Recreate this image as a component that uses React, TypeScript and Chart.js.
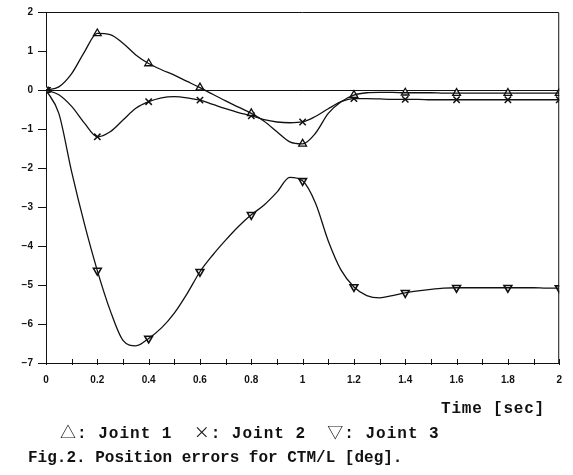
import React, { useEffect, useRef } from "react";
import { Chart, registerables } from "chart.js";

Chart.register(...registerables);

// Time axis (sec)
const TIME = [
  0, 0.05, 0.1, 0.15, 0.2, 0.25, 0.3, 0.35, 0.4, 0.45,
  0.5, 0.55, 0.6, 0.65, 0.7, 0.75, 0.8, 0.85, 0.9, 0.95,
  1.0, 1.05, 1.1, 1.15, 1.2, 1.25, 1.3, 1.35, 1.4, 1.45,
  1.5, 1.55, 1.6, 1.65, 1.7, 1.75, 1.8, 1.85, 1.9, 1.95, 2.0,
];

// Position errors [deg]
const JOINT1 = [
  0, 0.08, 0.42, 0.98, 1.45, 1.42, 1.2, 0.9, 0.68, 0.52,
  0.38, 0.22, 0.06, -0.11, -0.28, -0.44, -0.6, -0.8, -1.07, -1.33,
  -1.38, -1.11, -0.6, -0.3, -0.13, -0.07, -0.06, -0.06, -0.07, -0.07,
  -0.07, -0.08, -0.08, -0.08, -0.08, -0.08, -0.08, -0.08, -0.08, -0.08, -0.08,
];
const JOINT2 = [
  0, -0.12, -0.42, -0.85, -1.2, -1.07, -0.77, -0.47, -0.3, -0.2,
  -0.17, -0.2, -0.26, -0.37, -0.48, -0.58, -0.66, -0.76, -0.82, -0.84,
  -0.82, -0.68, -0.48, -0.3, -0.22, -0.22, -0.23, -0.24, -0.24, -0.24,
  -0.25, -0.25, -0.25, -0.25, -0.25, -0.25, -0.25, -0.25, -0.25, -0.25, -0.25,
];
const JOINT3 = [
  0, -0.6, -2.1, -3.44, -4.63, -5.65, -6.42, -6.56, -6.37, -6.1,
  -5.72, -5.22, -4.66, -4.23, -3.85, -3.5, -3.2, -2.95, -2.62, -2.24,
  -2.33, -2.9, -3.87, -4.62, -5.05, -5.27, -5.33, -5.27, -5.2, -5.15,
  -5.11, -5.08, -5.07, -5.07, -5.07, -5.07, -5.07, -5.07, -5.07, -5.08, -5.08,
];

const X_MIN = 0;
const X_MAX = 2;
const X_STEP = 0.2;
const X_MINOR_STEP = 0.1;
const Y_MIN = -7;
const Y_MAX = 2;
const Y_STEP = 1;

const MARKER_EVERY = 4; // markers every 0.2 s

const TITLE_X = "Time [sec]";
const LEGEND_ITEMS = [
  { sym: "\u25B3", text: ": Joint 1" },
  { sym: "\u00D7", text: ": Joint 2" },
  { sym: "\u25BD", text: ": Joint 3" },
];
const CAPTION = "Fig.2. Position errors for CTM/L [deg].";

const INK = "#111";

function line(values: number[]) {
  return TIME.map((t, i) => ({ x: t, y: values[i] }));
}
function marks(values: number[]) {
  return TIME.map((t, i) => ({ x: t, y: values[i] })).filter((_, i) => i % MARKER_EVERY === 0);
}

const framePlugin = {
  id: "frame",
  afterDraw(chart: any) {
    const { ctx, chartArea: a, scales } = chart;
    ctx.save();
    ctx.strokeStyle = INK;
    ctx.lineWidth = 1;
    ctx.beginPath();
    ctx.moveTo(a.left, a.top + 0.5);
    ctx.lineTo(a.right - 0.5, a.top + 0.5);
    ctx.lineTo(a.right - 0.5, a.bottom);
    ctx.stroke();
    // inward minor ticks on the time axis
    const xs = scales.x;
    const n = Math.round((X_MAX - X_MIN) / X_MINOR_STEP);
    ctx.beginPath();
    for (let i = 0; i <= n; i++) {
      const px = Math.round(xs.getPixelForValue(X_MIN + i * X_MINOR_STEP)) + 0.5;
      ctx.moveTo(px, a.bottom + 2);
      ctx.lineTo(px, a.bottom - 4);
    }
    ctx.stroke();
    ctx.restore();
  },
};

export default function App() {
  const ref = useRef<HTMLCanvasElement>(null);

  useEffect(() => {
    if (!ref.current) return;
    const lineStyle = {
      borderColor: INK,
      borderWidth: 1.3,
      pointRadius: 0,
      fill: false,
      cubicInterpolationMode: "monotone" as const,
    };
    const chart = new Chart(ref.current, {
      type: "line",
      data: {
        datasets: [
          { label: "Joint 1", data: line(JOINT1), ...lineStyle },
          { label: "Joint 2", data: line(JOINT2), ...lineStyle },
          { label: "Joint 3", data: line(JOINT3), ...lineStyle },
          {
            label: "Joint 1 markers",
            data: marks(JOINT1),
            showLine: false,
            pointStyle: "triangle",
            pointRadius: 4.5,
            pointBackgroundColor: "#fff",
            pointBorderColor: INK,
            pointBorderWidth: 1.3,
          },
          {
            label: "Joint 2 markers",
            data: marks(JOINT2),
            showLine: false,
            pointStyle: "crossRot",
            pointRadius: 4.5,
            pointBorderColor: INK,
            pointBorderWidth: 1.5,
          },
          {
            label: "Joint 3 markers",
            data: marks(JOINT3),
            showLine: false,
            pointStyle: "triangle",
            pointRotation: 180,
            pointRadius: 4.5,
            pointBackgroundColor: "#fff",
            pointBorderColor: INK,
            pointBorderWidth: 1.6,
          },
        ],
      },
      options: {
        animation: false,
        responsive: false,
        events: [],
        layout: { padding: { top: 12, right: 4, left: 0, bottom: 0 } },
        plugins: { legend: { display: false }, tooltip: { enabled: false } },
        scales: {
          x: {
            type: "linear",
            min: X_MIN,
            max: X_MAX,
            afterFit: (s: any) => {
              s.height = 112;
            },
            ticks: {
              stepSize: X_STEP,
              color: INK,
              padding: 11,
              maxRotation: 0,
              font: { family: "'Liberation Sans', Arial, sans-serif", size: 10, weight: "bold" },
              callback: (v: any) => String(Math.round(Number(v) * 10) / 10),
            },
            grid: { drawOnChartArea: false, drawTicks: false },
            border: { display: true, color: INK, width: 1 },
          },
          y: {
            min: Y_MIN,
            max: Y_MAX,
            afterFit: (s: any) => {
              s.width = 46;
            },
            ticks: {
              stepSize: Y_STEP,
              color: INK,
              padding: 5,
              font: { family: "'Liberation Sans', Arial, sans-serif", size: 10, weight: "bold" },
              callback: (v: any) => (Number(v) < 0 ? "\u2212" + Math.abs(Number(v)) : String(v)),
            },
            grid: {
              drawOnChartArea: true,
              tickLength: 8,
              tickColor: INK,
              color: (c: any) => (c.tick && c.tick.value === 0 ? INK : "rgba(0,0,0,0)"),
              lineWidth: 1,
            },
            border: { display: true, color: INK, width: 1 },
          },
        },
      },
      plugins: [framePlugin],
    });
    return () => chart.destroy();
  }, []);

  const mono = "'Liberation Mono', 'DejaVu Sans Mono', monospace";
  const textBase: React.CSSProperties = {
    position: "absolute",
    fontFamily: mono,
    fontWeight: "bold",
    color: INK,
    lineHeight: 1,
    whiteSpace: "pre",
    margin: 0,
  };
  const symStyle: React.CSSProperties = {
    fontFamily: "'Noto Sans CJK JP', 'DejaVu Sans', sans-serif",
    fontWeight: "normal",
  };

  return (
    <div style={{ position: "fixed", left: 0, top: 0, width: 573, height: 475, background: "#fff" }}>
      <canvas ref={ref} width={573} height={475} style={{ display: "block" }} />
      <div style={{ ...textBase, left: 441, top: 401, fontSize: 16, letterSpacing: 0.8 }}>{TITLE_X}</div>
      <div style={{ ...textBase, left: 60, top: 423, fontSize: 16, letterSpacing: 1 }}>
        {LEGEND_ITEMS.map((it, i) => (
          <span key={i}>
            <span style={symStyle}>{it.sym}</span>
            {it.text}
            {i < LEGEND_ITEMS.length - 1 ? "  " : ""}
          </span>
        ))}
      </div>
      <div style={{ ...textBase, left: 28, top: 450, fontSize: 16 }}>{CAPTION}</div>
    </div>
  );
}
